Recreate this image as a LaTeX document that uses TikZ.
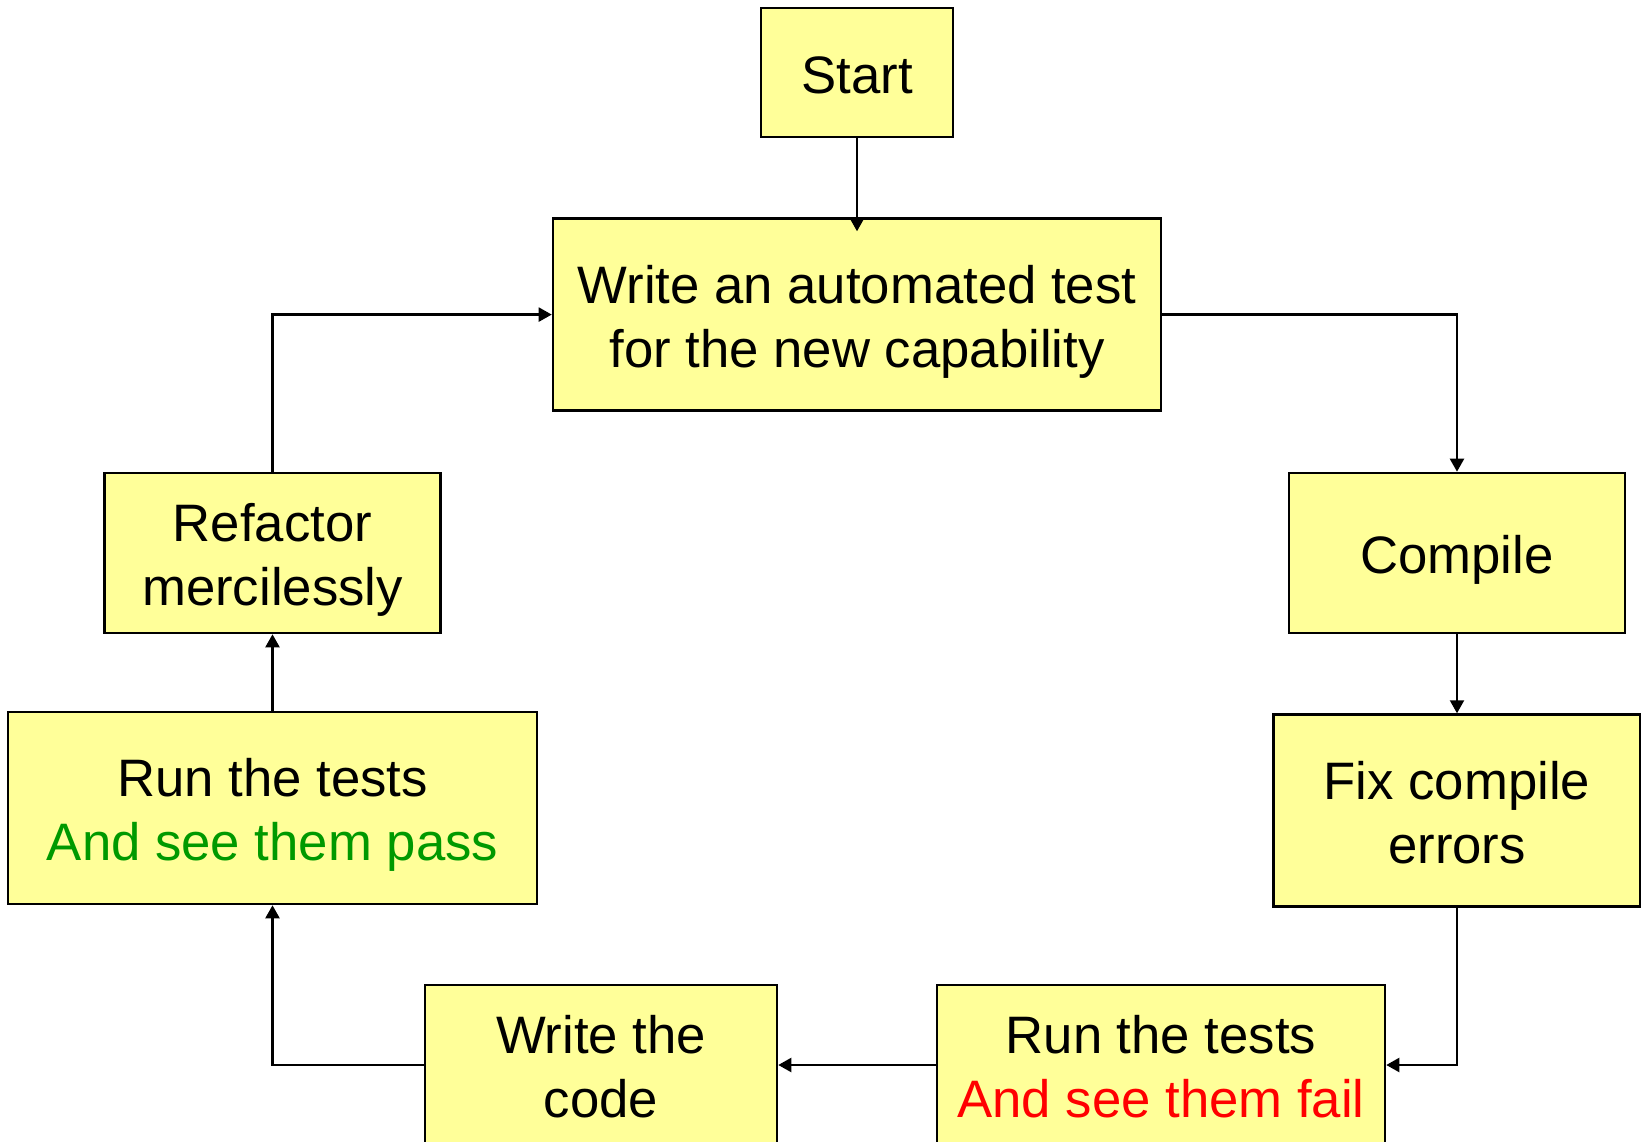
\documentclass[tikz,border=0pt]{standalone}
\usepackage{fontspec}
\setmainfont{Liberation Sans}
\usepackage{xcolor}
\usepackage{tikz}
\usetikzlibrary{arrows.meta,positioning}

\definecolor{boxyellow}{HTML}{FFFF99}
\definecolor{passgreen}{HTML}{009900}
\definecolor{failred}{HTML}{FF0000}
% struts so that every line sits the same way in its box
\newcommand{\boxtop}{\rule{0pt}{1.0em}}
\newcommand{\boxbot}{\rule[-0.21em]{0pt}{0pt}}

\begin{document}
\begin{tikzpicture}[x=0.02cm,y=-0.02cm,->,>={Triangle[length=0.26cm,width=0.28cm]},
  line width=1.25pt, step box/.style={rectangle,draw,line width=1.5pt,fill=boxyellow,
  align=center,inner sep=0pt,font=\fontsize{30}{36.5}\selectfont}]
    \useasboundingbox (0,0) rectangle (1641,1142);
    \node[step box,minimum width=3.84cm,minimum height=2.58cm] (start) at (857,72.5)
      {\boxtop Start\boxbot};
    \node[step box,minimum width=12.16cm,minimum height=3.84cm] (write) [below=1.58cm of start]
      {\boxtop Write an automated test\\for the new capability\boxbot};
    \node[step box,minimum width=6.72cm,minimum height=3.2cm] (compile) at (1457,553)
      {\boxtop Compile\boxbot};
    \node[step box,minimum width=7.34cm,minimum height=3.84cm] (fix) [below=1.58cm of compile]
      {\boxtop Fix compile\\errors\boxbot};
    \node[step box,minimum width=8.96cm,minimum height=3.2cm] (fail) at (1161,1065)
      {\boxtop Run the tests\\\textcolor{failred}{And see them fail}\boxbot};
    \node[step box,minimum width=7.04cm,minimum height=3.2cm] (code) at (601,1065)
      {\boxtop Write the\\code\boxbot};
    \node[step box,minimum width=10.58cm,minimum height=3.84cm] (pass) at (272.5,808)
      {\boxtop Run the tests\\\textcolor{passgreen}{And see them pass}\boxbot};
    \node[step box,minimum width=6.72cm,minimum height=3.2cm] (refactor) at (272.5,553)
      {\boxtop Refactor\\mercilessly\boxbot};
    \draw (start) -- ([yshift=-0.28cm]write.north);
    \draw (write.east) -| (compile.north);
    \draw (compile) -- (fix);
    \draw (fix.south) |- (fail.east);
    \draw (fail) -- (code);
    \draw (code.west) -| (pass.south);
    \draw (pass) -- (refactor);
    \draw (refactor.north) |- (write.west);
\end{tikzpicture}
\end{document}
